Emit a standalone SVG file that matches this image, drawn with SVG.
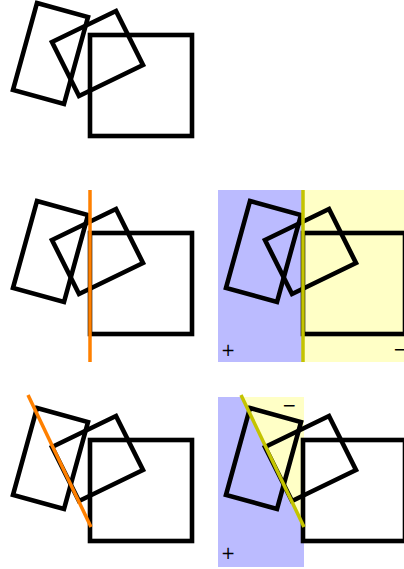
<svg xmlns="http://www.w3.org/2000/svg" xmlns:xlink="http://www.w3.org/1999/xlink" width="404" height="569" viewBox="0 0 404 569">
<style>
.shape{fill:none;stroke:#000;stroke-width:4.6;stroke-linejoin:miter}
.blue{fill:#bbbbff}
.yellow{fill:#ffffc6}
.orange{stroke:#ff8000;stroke-width:3.5;fill:none}
.olive{stroke:#c4c400;stroke-width:3.5;fill:none}
.sign{font-family:"DejaVu Sans",sans-serif;font-size:17px;fill:#000;text-anchor:middle}
</style>
<defs>
<g id="shapes">
<polygon class="shape" points="37,3 88,17 64,104 13,90"/>
<polygon class="shape" points="52,42 116,11 143,65 79,96"/>
<rect class="shape" x="90" y="35" width="102" height="101"/>
</g>
</defs>
<g id="regions">
<rect class="blue" x="218" y="190" width="85" height="172"/>
<rect class="yellow" x="303" y="190" width="101" height="172"/>
<rect class="blue" x="218" y="397" width="86" height="170"/>
<polygon class="yellow" points="242,397 304,397 304,527"/>
</g>
<g id="panel1"><use xlink:href="#shapes"/></g>
<g id="panel2"><use xlink:href="#shapes" transform="translate(0,198)"/></g>
<g id="panel3"><use xlink:href="#shapes" transform="translate(213,198)"/></g>
<g id="panel4"><use xlink:href="#shapes" transform="translate(0,405)"/></g>
<g id="panel5"><use xlink:href="#shapes" transform="translate(213,405)"/></g>
<g id="connectors">
<line class="orange" x1="90" y1="190" x2="90" y2="362"/>
<line class="olive" x1="303" y1="190" x2="303" y2="362"/>
<line class="orange" x1="28" y1="395" x2="91" y2="527"/>
<line class="olive" x1="241" y1="395" x2="304" y2="527"/>
</g>
<g id="labels">
<text class="sign" x="228" y="356">+</text>
<text class="sign" x="400" y="355">−</text>
<text class="sign" x="289" y="411">−</text>
<text class="sign" x="228" y="559">+</text>
</g>
</svg>
